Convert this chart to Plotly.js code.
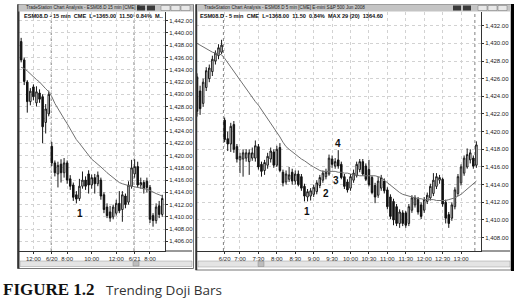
<!DOCTYPE html>
<html><head><meta charset="utf-8">
<script src="https://cdn.plot.ly/plotly-3.0.1.min.js"></script>
<style>html,body{margin:0;padding:0;background:#fff;}#chart{width:520px;height:301px;}</style>
</head><body><div id="chart"></div>
<script>
// ---------- LEFT CHART: ESM08.D 15-min bars (index 0 = 6/19 11:00) ----------
const leftOpen  = [1438.6,1435.6,1432.0,1428.8,1431.2,1428.6,1430.2,1429.6,1425.4,1426.8,
                   1421.5,1418.8,1417.0,1418.6,1417.2,1418.8,1416.2,1415.2,1413.6,1413.0,
                   1415.0,1416.0,1417.0,1415.2,1416.4,1415.4,1416.0,1413.6,1411.6,1410.8,
                   1410.0,1410.6,1412.2,1411.2,1413.4,1412.4,1415.0,1417.0,1418.2,1415.2,
                   1415.6,1415.8,1414.8,1410.2,1409.4,1411.8,1410.4];
const leftHigh  = [1439.2,1436.0,1432.3,1431.0,1431.6,1431.3,1430.8,1430.0,1428.4,1430.6,
                   1422.2,1419.2,1419.0,1419.4,1419.6,1419.2,1416.8,1415.6,1414.2,1416.2,
                   1417.4,1416.6,1417.6,1416.9,1417.0,1417.4,1416.4,1414.0,1412.2,1411.8,
                   1412.0,1412.8,1414.2,1414.2,1413.8,1415.8,1419.3,1419.4,1419.0,1416.4,
                   1416.0,1416.4,1415.2,1410.6,1412.2,1412.6,1413.6];
const leftLow   = [1435.2,1431.5,1427.0,1428.2,1429.0,1428.0,1428.6,1422.0,1423.6,1426.4,
                   1418.3,1416.6,1414.8,1415.6,1416.4,1415.4,1414.4,1412.6,1412.2,1412.6,
                   1414.6,1414.4,1413.8,1414.6,1413.8,1415.0,1412.8,1410.6,1409.8,1409.2,
                   1409.6,1410.2,1410.6,1409.2,1411.4,1412.0,1414.6,1416.4,1414.8,1414.6,
                   1413.8,1414.0,1409.0,1408.4,1408.9,1409.8,1410.0];
const leftClose = [1435.6,1432.1,1428.8,1430.5,1429.6,1430.4,1429.2,1424.7,1427.6,1430.0,
                   1418.8,1417.2,1418.4,1417.2,1418.8,1416.0,1415.0,1413.2,1412.9,1415.0,
                   1416.0,1415.0,1415.2,1416.4,1415.4,1416.8,1413.4,1411.2,1410.2,1409.8,
                   1411.6,1412.2,1411.0,1413.6,1412.0,1415.2,1418.0,1418.2,1415.2,1415.6,
                   1414.6,1414.8,1409.6,1409.4,1411.6,1410.4,1413.0];
const leftMA    = [1434.4,1434.2,1433.8,1433.3,1432.9,1432.4,1432.0,1431.4,1430.9,1430.4,
                   1429.6,1428.5,1427.6,1426.8,1426.0,1425.2,1424.3,1423.5,1422.6,1422.0,
                   1421.3,1420.6,1420.0,1419.4,1419.0,1418.6,1418.2,1417.7,1417.2,1416.8,
                   1416.4,1416.0,1415.6,1415.4,1415.2,1415.1,1415.0,1414.9,1414.9,1414.8,
                   1414.7,1414.5,1414.3,1414.0,1413.8,1413.6,1413.4];
const leftTickIdx  = [4, 10, 15, 23, 31, 37, 42];
const leftTickText = ['12:00','6/20','8:00','10:00','12:00','6/21','8:00'];
const leftDayStart = [10, 37];
const leftLabelIdx = [19.05], leftLabelPrice = [1410.6], leftLabelText = ['1'];

// ---------- RIGHT CHART: ESM08.D 5-min bars (index 0 = 6/19 12:35) ----------
const rightOpen  = [1426.2,1424.6,1423.2,1425.0,1426.0,1426.8,1428.0,1428.6,1429.0,1421.3,
                    1419.2,1418.6,1420.8,1418.3,1416.8,1416.9,1417.0,1416.6,1417.0,1417.0,
                    1418.3,1416.3,1415.6,1416.2,1416.9,1417.7,1416.2,1418.2,1415.4,1414.3,
                    1414.6,1415.4,1414.4,1415.2,1414.9,1413.8,1412.6,1412.7,1412.9,1413.2,
                    1413.9,1414.5,1414.9,1415.2,1416.9,1416.1,1416.8,1416.3,1414.9,1414.3,
                    1413.6,1414.5,1415.0,1415.7,1416.6,1416.1,1415.7,1414.8,1413.9,1412.8,
                    1413.6,1414.4,1413.4,1412.6,1412.1,1411.5,1409.6,1410.8,1410.8,1409.6,
                    1411.1,1411.7,1412.3,1411.7,1411.1,1412.1,1412.5,1413.0,1413.8,1414.5,
                    1414.6,1412.0,1410.6,1410.2,1411.5,1413.0,1414.2,1415.3,1416.0,1416.8,
                    1417.0,1416.2];
const rightHigh  = [1426.6,1425.2,1426.0,1427.3,1427.6,1428.6,1429.2,1429.9,1430.4,1421.6,
                    1420.0,1421.0,1421.2,1418.6,1417.6,1418.0,1418.0,1418.0,1418.2,1419.0,
                    1418.6,1416.6,1416.8,1417.6,1418.2,1418.0,1418.4,1418.7,1415.7,1415.6,
                    1416.0,1415.8,1415.6,1415.6,1415.2,1414.1,1413.5,1413.6,1414.0,1414.5,
                    1415.1,1415.6,1415.8,1417.4,1417.3,1417.0,1417.9,1416.6,1415.2,1414.6,
                    1415.2,1415.7,1416.6,1416.9,1416.9,1416.4,1416.8,1415.0,1414.2,1414.9,
                    1415.1,1414.7,1413.7,1412.9,1412.4,1411.8,1411.2,1411.1,1411.0,1411.8,
                    1412.8,1412.8,1412.6,1412.0,1412.6,1413.1,1414.1,1415.3,1415.3,1415.1,
                    1414.8,1412.3,1410.9,1412.0,1413.7,1415.2,1416.3,1417.3,1418.1,1418.0,
                    1417.3,1418.9];
const rightLow   = [1421.7,1421.9,1422.8,1424.6,1425.6,1426.3,1427.6,1428.2,1428.8,1418.8,
                    1417.8,1417.7,1417.6,1416.5,1415.3,1414.9,1416.6,1415.1,1416.7,1416.6,
                    1415.7,1414.9,1415.1,1415.8,1416.5,1415.9,1416.0,1415.4,1413.8,1414.0,
                    1414.3,1414.0,1414.0,1413.8,1413.3,1412.1,1412.1,1412.2,1412.6,1412.9,
                    1413.6,1414.2,1414.6,1415.0,1415.9,1415.8,1415.8,1414.6,1413.5,1413.1,
                    1413.3,1414.2,1414.8,1415.4,1415.0,1414.4,1413.8,1412.9,1411.9,1412.5,
                    1413.3,1413.0,1411.2,1410.1,1409.4,1409.3,1409.1,1409.3,1409.1,1409.3,
                    1410.8,1411.4,1410.6,1410.1,1410.8,1411.8,1412.2,1412.7,1413.5,1414.1,
                    1411.5,1409.6,1409.1,1409.9,1411.2,1412.7,1413.9,1415.0,1415.8,1416.4,
                    1415.8,1415.9];
const rightClose = [1422.3,1422.6,1425.6,1426.9,1427.2,1428.2,1428.9,1429.5,1429.8,1419.1,
                    1418.6,1420.6,1418.0,1416.9,1417.2,1417.6,1417.6,1417.6,1417.6,1418.4,
                    1416.0,1415.5,1416.5,1417.2,1417.8,1416.2,1418.0,1415.6,1414.2,1415.2,
                    1415.1,1414.4,1415.2,1414.0,1413.6,1412.7,1413.2,1413.3,1413.7,1414.2,
                    1414.8,1415.3,1415.4,1417.0,1416.3,1416.6,1416.1,1414.8,1413.8,1413.4,
                    1414.9,1415.3,1416.3,1416.6,1415.2,1414.6,1414.0,1413.1,1412.6,1414.4,
                    1414.8,1413.3,1411.5,1410.4,1410.0,1409.6,1410.9,1409.6,1409.4,1411.5,
                    1412.5,1412.5,1410.9,1410.4,1412.3,1412.8,1413.8,1414.5,1414.9,1414.8,
                    1411.8,1410.2,1409.6,1411.7,1413.4,1414.9,1416.0,1417.0,1417.4,1417.6,
                    1416.1,1418.5];
const rightMA    = [1430.0,1429.8,1429.6,1429.4,1429.2,1429.0,1428.9,1428.8,1428.7,1428.3,
                    1427.8,1427.3,1426.9,1426.4,1425.9,1425.4,1424.9,1424.4,1423.9,1423.4,
                    1423.0,1422.5,1422.0,1421.5,1421.0,1420.5,1420.0,1419.4,1418.8,1418.3,
                    1418.0,1417.7,1417.4,1417.1,1416.9,1416.7,1416.4,1416.2,1416.0,1415.8,
                    1415.6,1415.5,1415.5,1415.5,1415.5,1415.5,1415.4,1415.4,1415.3,1415.3,
                    1415.2,1415.1,1415.1,1415.0,1415.0,1415.0,1415.0,1415.0,1415.0,1414.9,
                    1414.8,1414.5,1414.2,1413.9,1413.6,1413.3,1413.1,1412.9,1412.8,1412.7,
                    1412.6,1412.5,1412.4,1412.4,1412.3,1412.3,1412.3,1412.3,1412.2,1412.2,
                    1412.2,1412.2,1412.3,1412.4,1412.5,1412.7,1412.9,1413.2,1413.5,1413.8,
                    1414.1,1414.4];
const rightTickIdx  = [9,14,20,26,32,38,44,50,56,62,68,74,80,86];
const rightTickText = ['6/20','7:00','7:30','8:00','8:30','9:00','9:30','10:00','10:30','11:00','11:30','12:00','12:30','13:00'];
const rightDayStart = [9];
const rightSessionEnd = [90];
const rightLabelIdx = [35.7, 41.9, 45.2, 46.06];
const rightLabelPrice = [1410.9, 1413.0, 1414.5, 1418.7];
const rightLabelText = ['1','2','3','4'];

// ---------- texts ----------
const leftWinTitle  = 'TradeStation Chart Analysis - ESM08.D 15 min [CME] E-...';
const rightWinTitle = 'TradeStation Chart Analysis - ESM08.D 5 min [CME] E-mini S&P 500 Jun 2008';
const leftHeader  = 'ESM08.D - 15 min  CME  L=1365.00  11.50  0.84%  M..';
const rightHeader = 'ESM08.D - 5 min  CME  L=1368.00  11.50  0.84%  MAX 29 (20)  1364.60';
const captionBold = 'FIGURE 1.2';
const captionText = 'Trending Doji Bars';

// ---------- geometry helpers (page pixels -> paper fractions) ----------
const W = 520, H = 301;
const px = x => x / W, py = y => 1 - y / H;
const idx = a => a.map((_, i) => i);

const candleStyle = {
  increasing: {line: {color: '#1a1a1a', width: 1}, fillcolor: '#ffffff'},
  decreasing: {line: {color: '#111111', width: 1}, fillcolor: '#111111'},
  whiskerwidth: 0, hoverinfo: 'skip', showlegend: false
};

const traces = [
  Object.assign({type: 'candlestick', x: idx(leftOpen), open: leftOpen, high: leftHigh, low: leftLow, close: leftClose, xaxis: 'x', yaxis: 'y'}, candleStyle),
  {type: 'scatter', mode: 'lines', x: idx(leftMA), y: leftMA, xaxis: 'x', yaxis: 'y', line: {color: '#707070', width: 1}, hoverinfo: 'skip'},
  Object.assign({type: 'candlestick', x: idx(rightOpen), open: rightOpen, high: rightHigh, low: rightLow, close: rightClose, xaxis: 'x2', yaxis: 'y2'}, candleStyle),
  {type: 'scatter', mode: 'lines', x: idx(rightMA), y: rightMA, xaxis: 'x2', yaxis: 'y2', line: {color: '#707070', width: 1}, hoverinfo: 'skip'}
];

const tickFont = {family: 'Liberation Sans, Arial, sans-serif', size: 6, color: '#222'};
const xCommon = {
  showgrid: true, gridcolor: '#d2d2d2', griddash: 'dot', gridwidth: 1,
  showline: true, linecolor: '#333', linewidth: 1, ticks: 'outside', ticklen: 2, tickcolor: '#333',
  tickfont: tickFont, zeroline: false, rangeslider: {visible: false}, fixedrange: true, tickmode: 'array'
};
const yCommon = {
  showgrid: true, gridcolor: '#d2d2d2', griddash: 'dot', gridwidth: 1,
  showline: true, linecolor: '#333', linewidth: 1, ticks: 'outside', ticklen: 2, tickcolor: '#333',
  side: 'right', tickformat: ',.2f', dtick: 2, tick0: 0, tickfont: tickFont, zeroline: false, fixedrange: true
};

const plotTop = 12, plotBottom = 251;
const layout = {
  width: W, height: H, margin: {l: 0, r: 0, t: 0, b: 0},
  paper_bgcolor: '#fff', plot_bgcolor: '#fff', showlegend: false,
  font: {family: 'Liberation Sans, Arial, sans-serif', size: 6, color: '#222'},
  xaxis: Object.assign({}, xCommon, {domain: [px(19), px(165)], range: [-0.7, 46.9], anchor: 'y',
    tickvals: leftTickIdx, ticktext: leftTickText}),
  yaxis: Object.assign({}, yCommon, {domain: [py(plotBottom), py(plotTop)], range: [1404.43, 1443.42], anchor: 'x'}),
  xaxis2: Object.assign({}, xCommon, {domain: [px(196), px(481)], range: [-0.33, 92.5], anchor: 'y2',
    tickvals: rightTickIdx, ticktext: rightTickText}),
  yaxis2: Object.assign({}, yCommon, {domain: [py(plotBottom), py(plotTop)], range: [1406.48, 1433.55], anchor: 'x2'}),
  shapes: [], annotations: []
};

const S = layout.shapes, A = layout.annotations;
function rect(x0, y0, x1, y1, fill, line, lw) {
  S.push({type: 'rect', xref: 'paper', yref: 'paper', x0: px(x0), x1: px(x1), y0: py(y1), y1: py(y0),
    fillcolor: fill || 'rgba(0,0,0,0)', line: {color: line || 'rgba(0,0,0,0)', width: lw || 0}, layer: 'above'});
}
function pline(x0, y0, x1, y1, color, w) {
  S.push({type: 'line', xref: 'paper', yref: 'paper', x0: px(x0), x1: px(x1), y0: py(y0), y1: py(y1),
    line: {color: color, width: w}, layer: 'above'});
}

// window frames
rect(17.5, 4.5, 193.5, 268.5, null, '#777', 1);
pline(18.5, 4.5, 18.5, 268.5, '#333', 2);
rect(18.5, 4.5, 193, 11.5, '#c4c4c4', null, 0);
rect(195.5, 4.5, 511, 270, null, '#777', 1);
pline(196.5, 4.5, 196.5, 270, '#333', 1.5);
pline(512.5, 4, 512.5, 271, '#000', 3);
rect(197, 4.5, 511, 11.5, '#c4c4c4', null, 0);
// title-bar buttons
rect(137, 5.5, 145, 10.5, '#3a3a3a', null, 0); rect(147, 5.5, 155, 10.5, '#3a3a3a', null, 0);
rect(161, 5.5, 170, 10.5, '#e8e8e8', '#777', 0.5); rect(171, 5.5, 180, 10.5, '#e8e8e8', '#777', 0.5); rect(181, 5.5, 190, 10.5, '#e8e8e8', '#777', 0.5);
rect(453, 5.5, 461, 10.5, '#3a3a3a', null, 0); rect(463, 5.5, 471, 10.5, '#3a3a3a', null, 0);
rect(478, 5.5, 487, 10.5, '#e8e8e8', '#777', 0.5); rect(488, 5.5, 497, 10.5, '#e8e8e8', '#777', 0.5); rect(498, 5.5, 507, 10.5, '#e8e8e8', '#777', 0.5);
// bottom line under price scale
pline(165, 251, 192, 251, '#333', 1);
pline(481, 251, 510, 251, '#333', 1);
// scrollbars
rect(20, 261, 192, 266.5, '#e4e4e4', '#999', 0.5); rect(133, 261.5, 139, 266, '#bdbdbd', '#888', 0.5);
rect(198, 261, 510, 267, '#e4e4e4', '#999', 0.5); rect(258, 261.5, 264, 266.5, '#bdbdbd', '#888', 0.5);

// session separators (dotted) from data indices
leftDayStart.forEach(i => S.push({type: 'line', xref: 'x', yref: 'y domain', x0: i - 0.2, x1: i - 0.2, y0: 0, y1: 1,
  line: {color: '#808080', width: 1, dash: 'dot'}, layer: 'below'}));
rightDayStart.forEach(i => S.push({type: 'line', xref: 'x2', yref: 'y2 domain', x0: i - 0.4, x1: i - 0.4, y0: 0, y1: 1,
  line: {color: '#808080', width: 1, dash: 'dot'}, layer: 'below'}));
rightSessionEnd.forEach(i => S.push({type: 'line', xref: 'x2', yref: 'y2 domain', x0: i + 0.5, x1: i + 0.5, y0: 0, y1: 1,
  line: {color: '#808080', width: 1, dash: 'dot'}, layer: 'below'}));

// texts
function ptext(x, y, t, size, opts) {
  A.push(Object.assign({xref: 'paper', yref: 'paper', x: px(x), y: py(y), text: t, showarrow: false,
    xanchor: 'left', yanchor: 'middle', font: {family: 'Liberation Sans, Arial, sans-serif', size: size, color: '#222'}}, opts || {}));
}
ptext(24, 8, leftWinTitle, 4.6);
ptext(202, 8, rightWinTitle, 4.6);
ptext(22, 16.5, '<b>' + leftHeader + '</b>', 5.6, {font: {family: 'Liberation Sans, Arial, sans-serif', size: 5.6, color: '#111'}});
ptext(198, 16.5, '<b>' + rightHeader + '</b>', 5.6, {font: {family: 'Liberation Sans, Arial, sans-serif', size: 5.6, color: '#111'}});
ptext(1, 289.5, '<b>' + captionBold + '</b>', 17, {font: {family: 'Liberation Serif, Times New Roman, serif', size: 17, color: '#111'}});
ptext(104, 289.5, captionText, 13.5, {font: {family: 'Open Sans, Liberation Sans, sans-serif', size: 13.5, color: '#333'}});

// swing labels
leftLabelIdx.forEach((v, k) => A.push({xref: 'x', yref: 'y', x: v, y: leftLabelPrice[k], text: '<b>' + leftLabelText[k] + '</b>',
  showarrow: false, font: {family: 'Liberation Sans, Arial, sans-serif', size: 10, color: '#111'}}));
rightLabelIdx.forEach((v, k) => A.push({xref: 'x2', yref: 'y2', x: v, y: rightLabelPrice[k], text: '<b>' + rightLabelText[k] + '</b>',
  showarrow: false, font: {family: 'Liberation Sans, Arial, sans-serif', size: 10, color: '#111'}}));

Plotly.newPlot('chart', traces, layout, {staticPlot: true, displayModeBar: false});
</script></body></html>
